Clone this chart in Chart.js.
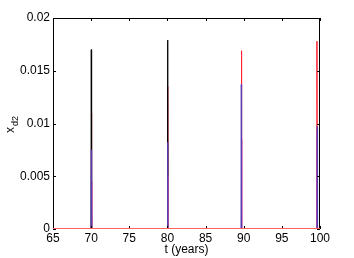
<!DOCTYPE html>
<html>
<head>
<meta charset="utf-8">
<script src="https://cdn.jsdelivr.net/npm/chart.js@4/dist/chart.umd.min.js"></script>
<style>
  html, body { margin: 0; padding: 0; background: #fff; }
  #wrap { width: 354px; height: 258px; }
</style>
</head>
<body>
<div id="wrap"><canvas id="xd2Chart"></canvas></div>
<script>
// tick labels
const xTicks = [65, 70, 75, 80, 85, 90, 95, 100];
const yTicks = [0, 0.005, 0.01, 0.015, 0.02];

// time samples (years) and series values
const tBlack = [65, 69.98, 70.02, 70.06, 79.98, 80.02, 80.06, 100];
const xBlack = [0, 0, 0.017, 0, 0, 0.0179, 0, 0];

const tRed = [65, 70.0, 70.04, 70.08, 80.0, 80.04, 80.08, 89.66, 89.7, 89.74, 99.56, 99.6, 99.64, 100];
const xRed = [0, 0, 0.011, 0, 0, 0.0135, 0, 0, 0.0169, 0, 0, 0.0178, 0, 0];

const tBlue = [65, 69.98, 70.02, 70.06, 79.98, 80.02, 80.06, 89.64, 89.68, 89.72, 99.6, 99.64, 99.68, 100];
const xBlue = [0, 0, 0.0075, 0, 0, 0.0082, 0, 0, 0.0137, 0, 0, 0.0097, 0, 0];

const tMagenta = [65, 70.02, 70.06, 70.1, 80.02, 80.06, 80.1, 89.68, 89.72, 89.76, 99.58, 99.62, 99.66, 100];
const xMagenta = [0, 0, 0.0045, 0, 0, 0.005, 0, 0, 0.0085, 0, 0, 0.0092, 0, 0];

function pts(t, v) {
    return t.map((ti, i) => ({ x: ti, y: v[i] }));
}

// box round the plot with inward tick marks and the axis titles
const matlabAxes = {
    id: "matlabAxes",
    afterDraw(chart) {
        const ctx = chart.ctx;
        const a = chart.chartArea;
        const xs = chart.scales.x;
        const ys = chart.scales.y;
        ctx.save();
        ctx.strokeStyle = "#000";
        ctx.lineWidth = 1;
        ctx.strokeRect(a.left + 0.5, a.top + 0.5, a.right - a.left - 1, a.bottom - a.top - 1);
        ctx.beginPath();
        xTicks.forEach(v => {
            const px = Math.round(xs.getPixelForValue(v)) + 0.5;
            ctx.moveTo(px, a.bottom); ctx.lineTo(px, a.bottom - 3);
            ctx.moveTo(px, a.top); ctx.lineTo(px, a.top + 3);
        });
        yTicks.forEach(v => {
            const py = Math.round(ys.getPixelForValue(v)) + 0.5;
            ctx.moveTo(a.left, py); ctx.lineTo(a.left + 3, py);
            ctx.moveTo(a.right, py); ctx.lineTo(a.right - 3, py);
        });
        ctx.stroke();

        // red baseline drawn over the axis, as in the original
        ctx.strokeStyle = "#ff6060";
        ctx.beginPath();
        ctx.moveTo(a.left, a.bottom - 0.5);
        ctx.lineTo(a.right, a.bottom - 0.5);
        ctx.stroke();

        ctx.fillStyle = "#000";
        ctx.textAlign = "center";
        ctx.textBaseline = "middle";
        ctx.font = "12px 'Liberation Sans', Arial, sans-serif";
        ctx.fillText("t (years)", (a.left + a.right) / 2, 250);

        ctx.translate(11, 122);
        ctx.rotate(-Math.PI / 2);
        ctx.textAlign = "left";
        ctx.fillText("x", -11, 0);
        ctx.font = "9px 'Liberation Sans', Arial, sans-serif";
        ctx.fillText("d2", -4, 5);
        ctx.restore();
    }
};

const font = { family: "'Liberation Sans', Arial, sans-serif", size: 12 };

new Chart(document.getElementById("xd2Chart"), {
    type: "line",
    data: {
        datasets: [
            { data: pts(tBlue, xBlue), borderColor: "#5a3cb4" },
            { data: pts(tMagenta, xMagenta), borderColor: "#d050a0" },
            { data: pts(tBlack, xBlack), borderColor: "#000000" },
            { data: pts(tRed, xRed), borderColor: "#ff2030" }
        ]
    },
    options: {
        responsive: true,
        maintainAspectRatio: false,
        animation: false,
        datasets: { line: { borderWidth: 1, pointRadius: 0, tension: 0, fill: false } },
        layout: { padding: { top: 18, right: 34, left: 0, bottom: 0 } },
        plugins: { legend: { display: false }, tooltip: { enabled: false } },
        scales: {
            x: {
                type: "linear",
                min: 65,
                max: 100,
                afterBuildTicks: s => { s.ticks = xTicks.map(v => ({ value: v })); },
                afterFit: s => { s.height = 29; },
                grid: { display: false, drawTicks: false },
                border: { display: false },
                ticks: { color: "#000", font, padding: 2, maxRotation: 0, callback: v => String(v) }
            },
            y: {
                min: 0,
                max: 0.02,
                afterBuildTicks: s => { s.ticks = yTicks.map(v => ({ value: v })); },
                afterFit: s => { s.width = 53; },
                grid: { display: false, drawTicks: false },
                border: { display: false },
                ticks: { color: "#000", font, padding: 3, callback: v => String(v) }
            }
        }
    },
    plugins: [matlabAxes]
});
</script>
</body>
</html>
